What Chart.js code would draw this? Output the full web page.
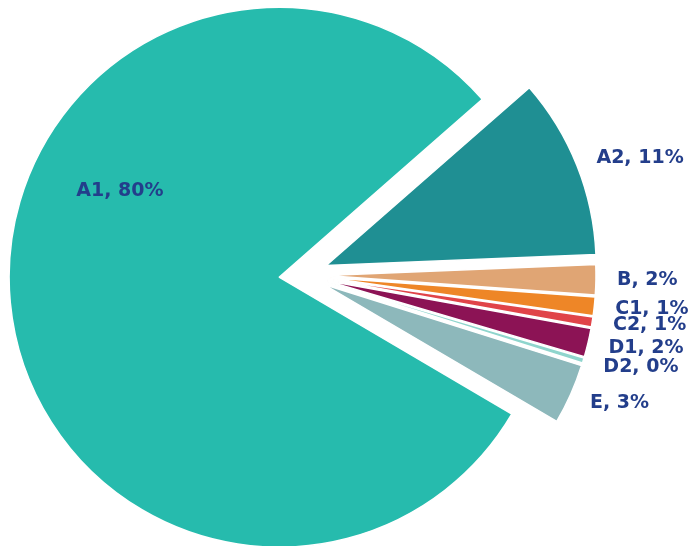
<!DOCTYPE html>
<html>
<head>
<meta charset="utf-8">
<script src="https://cdn.jsdelivr.net/npm/chart.js@4/dist/chart.umd.min.js"></script>
<style>
    html, body { margin: 0; padding: 0; background: #ffffff; }
    #wrap { position: relative; width: 690px; height: 546px; }
</style>
</head>
<body>
<div id="wrap"><canvas id="share-chart"></canvas></div>
<script>
const categories = ['A2', 'B', 'C1', 'C2', 'D1', 'D2', 'E', 'A1'];
const shares = [10.8, 1.8, 1.1, 0.6, 1.7, 0.3, 3.6, 80.1];
const shareLabels = ['11%', '2%', '1%', '1%', '2%', '0%', '3%', '80%'];
const sliceColors = ['#1f8f93', '#e0a574', '#ee8627', '#e04449', '#8c1355', '#8fd5cd', '#8db8bb', '#26bbad'];

const labelColor = '#233e8b';
const labelFont = 'bold 19px "DejaVu Sans"';

// excel style explosion: every slice is pushed out along its own mid angle.
// (chart.js "offset" also trims the arc angle, which eats the thin slices, so move the arcs here instead)
const explode = {
    id: 'explode',
    afterDatasetUpdate(chart, args, opts) {
        chart.getDatasetMeta(0).data.forEach(function(arc, i) {
            const d = typeof opts.distance === 'function' ? opts.distance(i) : opts.distance;
            const mid = (arc.startAngle + arc.endAngle) / 2;
            arc.x += Math.cos(mid) * d;
            arc.y += Math.sin(mid) * d;
        });
    }
};

// draws "name, pct" next to each slice
const sliceLabels = {
    id: 'sliceLabels',
    afterDatasetsDraw(chart) {
        const ctx = chart.ctx;
        const meta = chart.getDatasetMeta(0);
        ctx.save();
        ctx.font = labelFont;
        ctx.fillStyle = labelColor;
        ctx.textBaseline = 'middle';
        meta.data.forEach(function(arc, i) {
            const mid = (arc.startAngle + arc.endAngle) / 2;
            const r = arc.outerRadius;
            const text = categories[i] + ', ' + shareLabels[i];
            if (arc.circumference > Math.PI) {
                // big slice: label sits inside, upper left
                const a = arc.startAngle + arc.circumference * 0.617;
                ctx.textAlign = 'center';
                ctx.fillText(text, arc.x + Math.cos(a) * r * 0.67, arc.y + Math.sin(a) * r * 0.67);
            } else {
                ctx.textAlign = 'left';
                ctx.fillText(text, arc.x + Math.cos(mid) * (r + 21), arc.y + Math.sin(mid) * (r + 21));
            }
        });
        ctx.restore();
    }
};

function initChart() {
    const ctx = document.getElementById('share-chart').getContext('2d');
    return new Chart(ctx, {
        type: 'pie',
        data: {
            labels: categories,
            datasets: [{
                data: shares,
                backgroundColor: sliceColors,
                borderColor: '#ffffff',
                borderWidth: 1.5
            }]
        },
        options: {
            responsive: true,
            maintainAspectRatio: false,
            animation: false,
            rotation: 48.8,
            radius: 270,
            layout: {
                padding: { top: 4, right: 85, bottom: 0, left: 0 }
            },
            plugins: {
                legend: { display: false },
                tooltip: { enabled: false },
                explode: { distance: i => categories[i] === 'A2' ? 25.5 : 23.5 }
            },
            events: []
        },
        plugins: [explode, sliceLabels]
    });
}

document.addEventListener('DOMContentLoaded', function() {
    initChart();
});
</script>
</body>
</html>
